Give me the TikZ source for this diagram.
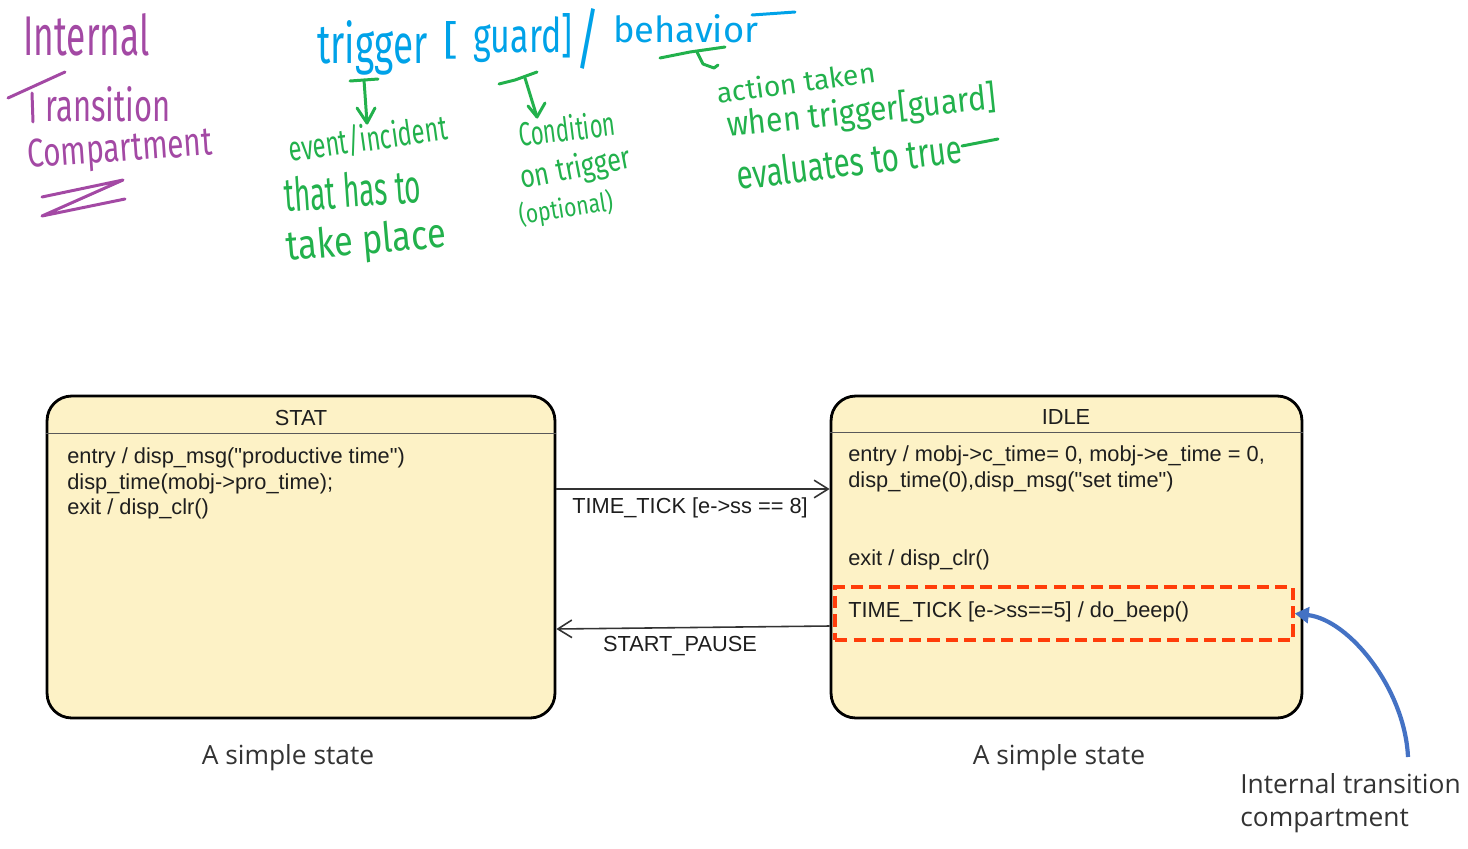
\documentclass[tikz,border=0pt]{standalone}
\usepackage{fontspec}
\usepackage{graphicx}
\setmainfont{Liberation Sans}[Ligatures=TeXOff]
\newfontfamily\labfont{Open Sans}
\newfontfamily\hwfont{Fira Sans}
\usetikzlibrary{arrows.meta}
\definecolor{hwpurple}{HTML}{A349A4}
\definecolor{hwblue}{HTML}{00A2E8}
\definecolor{hwgreen}{HTML}{22B14C}
\definecolor{statefill}{HTML}{FDF2C6}
\definecolor{itcred}{HTML}{FF3D0A}
\definecolor{calloutblue}{HTML}{4472C4}
\definecolor{txt}{HTML}{1E1E1E}
\definecolor{labtxt}{HTML}{333333}
\newcommand{\dfont}{\fontsize{12.4}{14.7}\selectfont}
\newcommand{\lfont}{\labfont\fontsize{15}{18}\selectfont}
\newcommand{\hw}[3]{\resizebox{#1cm}{#2cm}{\hwfont #3}}
\newcommand{\dq}{\symbol{34}}
\tikzset{
  statebox/.style={draw=black, line width=1.6pt, fill=statefill, rounded corners=14pt, inner sep=0pt},
  hdr/.style={draw=black!65, line width=0.6pt},
  title/.style={font=\dfont, text=txt, inner sep=0pt, anchor=base},
  body/.style={font=\dfont, text=txt, inner sep=0pt, anchor=base west},
  trans/.style={draw=black!80, line width=0.9pt, -{Straight Barb[length=8pt,width=10pt,line width=0.9pt]}},
  itcbox/.style={draw=itcred, line width=2pt, dash pattern=on 7pt off 3.5pt, inner sep=0pt},
  callout/.style={draw=calloutblue, line width=2.4pt, -{Triangle[length=8pt,width=9pt]}},
  lab/.style={font=\lfont, text=labtxt, inner sep=0pt},
  hwnode/.style={inner sep=0pt, anchor=base west},
  hwline/.style={line width=1.7pt, line cap=round, line join=round},
}
\begin{document}
\begin{tikzpicture}[x=0.02cm, y=-0.02cm]
\useasboundingbox (0,0) rectangle (1468,849);

% ---------- states ----------
\node[statebox, minimum width=10.16cm, minimum height=6.44cm] (stat) at (301,557) {};
\node[statebox, minimum width=9.42cm, minimum height=6.44cm] (idle) at (1066.5,557) {};
\draw[hdr] ([yshift=-0.78cm]stat.north west) -- ([yshift=-0.78cm]stat.north east);
\draw[hdr] ([yshift=-0.76cm]idle.north west) -- ([yshift=-0.76cm]idle.north east);
\node[title] (statT) at (301,425) {STAT};
\node[title] (idleT) at (1066,424) {IDLE};

\node[body] (s1) at (67,463) {entry / disp\_msg(\dq productive time\dq)};
\node[body] (s2) at (67,489) {disp\_time(mobj->pro\_time);};
\node[body] (s3) at (67,514) {exit / disp\_clr()};

\node[body] (i1) at (848,461) {entry / mobj->c\_time= 0, mobj->e\_time = 0,};
\node[body] (i2) at (848,487) {disp\_time(0),disp\_msg(\dq set time\dq)};
\node[body] (i3) at (848,565) {exit / disp\_clr()};

\node[itcbox, minimum width=9.16cm, minimum height=1.06cm] (itc) at (1064,613.5) {};
\node[body] (itct) at (848,617) {TIME\_TICK [e->ss==5] / do\_beep()};

% ---------- transitions ----------
\draw[trans] (stat.east |- 0,489) -- (idle.west |- 0,489);
\node[title] (tt) at (690,513) {TIME\_TICK [e->ss == 8]};
\draw[trans] (idle.west |- 0,626) -- (stat.east |- 0,629);
\node[title] (sp) at (680,651) {START\_PAUSE};

% ---------- captions ----------
\node[lab, anchor=base] (cap1) at (288,764) {A simple state};
\node[lab, anchor=base] (cap2) at (1059,764) {A simple state};
\node[lab, anchor=base west] (itcl) at (1240,793) {Internal transition};
\node[lab, anchor=base west] (itcl2) at (1240,826) {compartment};
\coordinate (cstart) at (1408,757);
\draw[callout] (cstart) .. controls (1405,690) and (1350,620) .. (itc.east);

% ---------- handwriting: purple ----------
\begin{scope}[hwline, draw=hwpurple]
\node[hwnode, text=hwpurple] (pInt) at (22,55) {\hw{2.52}{0.84}{Internal}};
\coordinate (pT1) at (8,98); \coordinate (pT2) at (65,72);
\draw (pT1) -- (pT2);
\draw (32,93) -- (33,122);
\node[hwnode, text=hwpurple] (pTr) at (44,121) {\hw{2.5}{0.7}{ransition}};
\node[hwnode, text=hwpurple, rotate=4] (pCo) at (27,168) {\hw{3.7}{0.56}{Compartment}};
\draw (42,197) -- (123,180) -- (42,216) -- (125,199);
\end{scope}

% ---------- handwriting: blue ----------
\node[hwnode, text=hwblue] (bTrig) at (317,63) {\hw{2.2}{0.86}{trigger}};
\node[hwnode, text=hwblue] (bLb) at (443,54) {\hw{0.3}{0.66}{[}};
\node[hwnode, text=hwblue] (bGuard) at (473,52) {\hw{1.98}{0.78}{guard]}};
\node[hwnode, text=hwblue] (bSl) at (575,62) {\hw{0.5}{1.08}{/}};
\node[hwnode, text=hwblue] (bBeh) at (613,42) {\hw{2.9}{0.56}{behavior}};
\draw[hwline, draw=hwblue] (752,15) -- (795,12);

% ---------- handwriting: green ----------
\begin{scope}[hwline, draw=hwgreen]
\coordinate (gA1) at (350,81); \coordinate (gA2) at (378,79);
\draw (gA1) -- (gA2);
\draw (364,80) -- (367,123);
\draw (357,108) -- (367,123) -- (375,108);
\draw (499,84) -- (515,80) -- (537,72);
\draw (525,78) -- (537,117);
\draw (528,106) -- (537,117) -- (545,103);
\draw (660,58) -- (690,52) -- (725,47);
\draw (697,52) -- (703,64) -- (714,68) -- (718,65);
\draw (962,146) -- (998,139);
\end{scope}

\node[hwnode, text=hwgreen, rotate=8] (gEv) at (290,162) {\hw{3.2}{0.56}{event/incident}};
\node[hwnode, text=hwgreen, rotate=4] (gTh) at (285,212) {\hw{2.74}{0.7}{that has to}};
\node[hwnode, text=hwgreen, rotate=5] (gTa) at (287,261) {\hw{3.2}{0.62}{take place}};

\node[hwnode, text=hwgreen, rotate=7] (gCo) at (520,147) {\hw{1.94}{0.52}{Condition}};
\node[hwnode, text=hwgreen, rotate=11] (gOn) at (522,189) {\hw{2.24}{0.5}{on trigger}};
\node[hwnode, text=hwgreen, rotate=9] (gOp) at (520,225) {\hw{1.9}{0.44}{(optional)}};

\node[hwnode, text=hwgreen, rotate=8] (gAc) at (718,104) {\hw{3.2}{0.44}{action taken}};
\node[hwnode, text=hwgreen, rotate=6] (gWh) at (728,137) {\hw{5.4}{0.56}{when trigger[guard]}};
\node[hwnode, text=hwgreen, rotate=7] (gEva) at (738,190) {\hw{4.54}{0.6}{evaluates to true}};
\end{tikzpicture}
\end{document}
